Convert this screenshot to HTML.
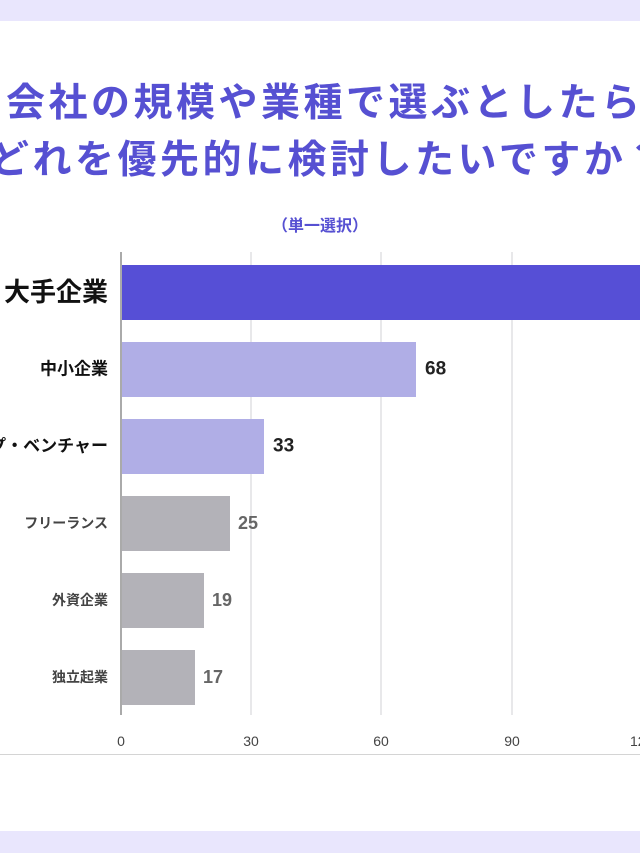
<!DOCTYPE html>
<html><head><meta charset="utf-8"><style>
html,body{overflow:hidden}
body{margin:0;width:640px;height:853px;overflow:hidden;background:#fff;position:relative;font-family:"Liberation Sans","Noto Sans CJK JP",sans-serif}
.a{position:absolute;white-space:nowrap}
.t{color:#5650d2;font-weight:bold;font-size:39px;letter-spacing:3.5px;line-height:1}
.lbl{position:absolute;right:532px;white-space:nowrap;font-weight:bold;line-height:1;transform:translateY(-50%)}
.bar{position:absolute;left:121px;height:55px}
.v{position:absolute;font-weight:bold;line-height:1;transform:translateY(-50%)}
.g{position:absolute;top:252px;height:463px;width:2px;background:#e8e8ea}
.tk{position:absolute;top:734px;font-size:14px;color:#444;transform:translateX(-50%);line-height:1}
.clip{position:absolute;left:0;top:0;width:640px;height:853px;overflow:hidden}
</style></head><body><div class="clip">
<div class="a" style="left:0;top:0;width:640px;height:21px;background:#e9e6fd"></div>
<div class="a" style="left:0;top:831px;width:640px;height:22px;background:#e9e6fd"></div>
<div class="a t" style="left:6px;top:84px">会社の規模や業種で選ぶとしたら、</div>
<div class="a t" style="left:-10px;top:141px">どれを優先的に検討したいですか？</div>
<div class="a" style="left:0;width:640px;text-align:center;top:212px;font-size:16px;font-weight:bold;color:#5650d2">（単一選択）</div>
<div class="g" style="left:250px"></div>
<div class="g" style="left:380px"></div>
<div class="g" style="left:511px"></div>
<div class="bar" style="top:265px;width:519px;background:#564fd6"></div>
<div class="bar" style="top:342px;width:295px;background:#b0aee6"></div>
<div class="bar" style="top:419px;width:143px;background:#b0aee6"></div>
<div class="bar" style="top:496px;width:109px;background:#b3b2b8"></div>
<div class="bar" style="top:573px;width:83px;background:#b3b2b8"></div>
<div class="bar" style="top:650px;width:74px;background:#b3b2b8"></div>
<div class="a" style="left:120px;top:252px;width:2px;height:463px;background:#aaa"></div>
<div class="lbl" style="top:292px;font-size:26px;color:#111">大手企業</div>
<div class="lbl" style="top:369px;font-size:17px;color:#111">中小企業</div>
<div class="lbl" style="top:446px;font-size:17px;color:#111">スタートアップ・ベンチャー</div>
<div class="lbl" style="top:523px;font-size:14px;color:#444">フリーランス</div>
<div class="lbl" style="top:600px;font-size:14px;color:#444">外資企業</div>
<div class="lbl" style="top:677px;font-size:14px;color:#444">独立起業</div>
<div class="v" style="left:425px;top:369px;font-size:19px;color:#222">68</div>
<div class="v" style="left:273px;top:446px;font-size:19px;color:#222">33</div>
<div class="v" style="left:238px;top:523px;font-size:18px;color:#666">25</div>
<div class="v" style="left:212px;top:600px;font-size:18px;color:#666">19</div>
<div class="v" style="left:203px;top:677px;font-size:18px;color:#666">17</div>
<div class="tk" style="left:121px">0</div>
<div class="tk" style="left:251px">30</div>
<div class="tk" style="left:381px">60</div>
<div class="tk" style="left:512px">90</div>
<div class="a" style="left:630px;top:734px;font-size:14px;color:#444;line-height:1">120</div>
<div class="a" style="left:0;top:754px;width:640px;height:1px;background:#d4d4d4"></div>
</div></body></html>
